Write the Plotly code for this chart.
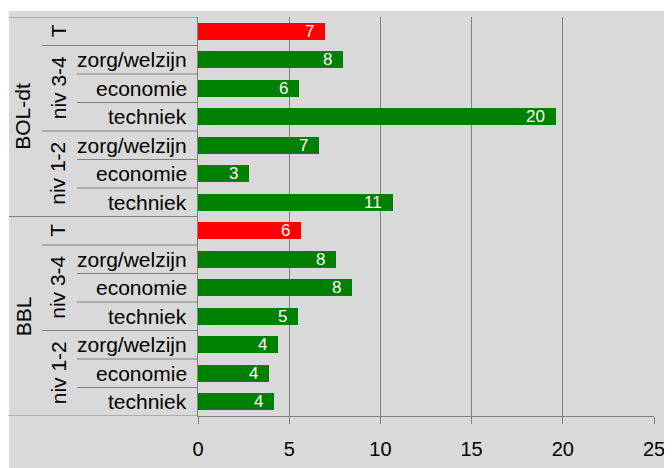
import plotly.graph_objects as go

# ---- data ----
groups = ["BOL-dt"] * 7 + ["BBL"] * 7
levels = ["T", "niv 3-4", "niv 3-4", "niv 3-4", "niv 1-2", "niv 1-2", "niv 1-2"] * 2
subs = ["", "zorg/welzijn", "economie", "techniek", "zorg/welzijn", "economie", "techniek"] * 2
values = [6.98, 7.95, 5.55, 19.6, 6.65, 2.8, 10.7, 5.66, 7.58, 8.46, 5.49, 4.4, 3.9, 4.18]
value_labels = ["7", "8", "6", "20", "7", "3", "11", "6", "8", "8", "5", "4", "4", "4"]
x_ticks = [0, 5, 10, 15, 20, 25]

# ---- layout constants (figure pixels; page adds an 8px body margin) ----
W_FIG, H_FIG = 672, 468
ML, MR, MT, MB = 190, 26, 9, 60
PW = W_FIG - ML - MR
PH = H_FIG - MT - MB
FONT = "Liberation Sans, Arial, sans-serif"
GRID = "#808080"
BG = "#d9d9d9"


def px(xpix):
    return (xpix - ML) / PW


def py(ypix):
    return (H_FIG - MB - ypix) / PH


n = len(values)
ypos = list(range(n))
colors = ["#ff0000" if lv == "T" else "#008000" for lv in levels]

fig = go.Figure()
fig.add_trace(go.Bar(
    x=values, y=ypos, orientation="h", width=0.6,
    marker=dict(color=colors, line=dict(width=0)),
    hoverinfo="skip",
))

annotations = []
# value labels
for i, (v, t) in enumerate(zip(values, value_labels)):
    annotations.append(dict(x=v, y=i, xref="x", yref="y", text=t, showarrow=False,
                            xanchor="right", yanchor="middle", xshift=-9,
                            font=dict(family=FONT, size=17, color="white")))
# sub labels
for i, s in enumerate(subs):
    if s:
        annotations.append(dict(x=px(181), y=i, xref="paper", yref="y", text=s,
                                showarrow=False, xanchor="right", yanchor="middle",
                                font=dict(family=FONT, size=21, color="black")))


def spans(keys):
    out = []
    start = 0
    for i in range(1, len(keys) + 1):
        if i == len(keys) or keys[i] != keys[start]:
            out.append((keys[start], start, i - 1))
            start = i
    return out


lvl_keys = [g + "|" + l for g, l in zip(groups, levels)]
for key, a, b in spans(lvl_keys):
    label = key.split("|")[1]
    annotations.append(dict(x=px(50), y=(a + b) / 2, xref="paper", yref="y", text=label,
                            showarrow=False, textangle=-90, xanchor="center", yanchor="middle",
                            font=dict(family=FONT, size=21, color="black")))
for key, a, b in spans(groups):
    annotations.append(dict(x=px(15), y=(a + b) / 2, xref="paper", yref="y", text=key,
                            showarrow=False, textangle=-90, xanchor="center", yanchor="middle",
                            font=dict(family=FONT, size=21, color="black")))

shapes = [
    dict(type="rect", xref="paper", yref="paper", x0=px(-5), x1=px(W_FIG + 5),
         y0=py(3), y1=py(-5), fillcolor="white", line=dict(width=0), layer="below"),
    dict(type="rect", xref="paper", yref="paper", x0=px(-5), x1=px(1),
         y0=py(H_FIG + 5), y1=py(-5), fillcolor="white", line=dict(width=0), layer="below"),
]


def hline(yv, xstart):
    shapes.append(dict(type="line", xref="paper", yref="y", x0=px(xstart), x1=px(ML),
                       y0=yv, y1=yv, line=dict(color=GRID, width=1)))


hline(-0.5, 1)
for i in range(n - 1):
    yv = i + 0.5
    if groups[i] != groups[i + 1]:
        hline(yv, 1)
    elif levels[i] != levels[i + 1]:
        hline(yv, 34)
    else:
        hline(yv, 69)
hline(n - 0.5, 0)

fig.update_layout(
    width=W_FIG, height=H_FIG,
    margin=dict(l=ML, r=MR, t=MT, b=MB),
    paper_bgcolor=BG, plot_bgcolor=BG,
    showlegend=False, bargap=0,
    annotations=annotations, shapes=shapes,
    font=dict(family=FONT, size=21, color="black"),
    xaxis=dict(range=[0, 25], tickvals=x_ticks, showgrid=True, gridcolor=GRID, gridwidth=1,
               zeroline=False, showline=True, linecolor=GRID, linewidth=1,
               ticks="outside", ticklen=7, tickcolor=GRID, ticklabelstandoff=8,
               tickfont=dict(family=FONT, size=20, color="black"), fixedrange=True),
    yaxis=dict(range=[n - 0.5, -0.5], showticklabels=False, showgrid=False, zeroline=False,
               showline=True, linecolor=GRID, linewidth=1, ticks="", fixedrange=True),
)

fig.write_html("out.html")
